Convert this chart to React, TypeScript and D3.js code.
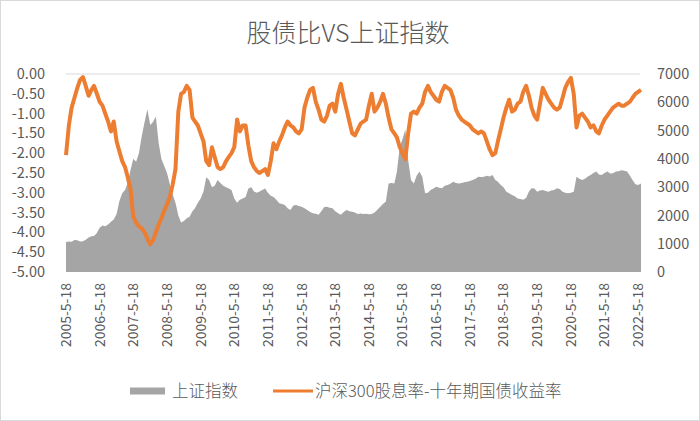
import { useEffect, useRef } from 'react';
import * as d3 from 'd3';

// monthly readings, 2005-05 .. 2022-06
const START_DATE = new Date(2005, 4, 18);

const indexValues = [
  1060, 1080, 1070, 1130, 1120, 1080, 1090, 1140,
  1220, 1260, 1270, 1380, 1560, 1640, 1620, 1680, 1780, 1860, 2050, 2500,
  2780, 2900, 3150, 3600, 4000, 3900, 4200, 4800, 5300, 5750, 5200, 5300,
  5500, 4550, 4000, 3750, 3500, 3100, 2750, 2450, 2000, 1750, 1800, 1900,
  1950, 2150, 2250, 2450, 2600, 2850, 3350, 3250, 3000, 3050, 3250, 3150,
  3050, 3000, 2950, 2900, 2600, 2450, 2550, 2600, 2650, 2950, 3000, 2850,
  2800, 2850, 2900, 2950, 2800, 2700, 2650, 2550, 2430, 2400, 2370, 2250,
  2190, 2350, 2370, 2330, 2310, 2250, 2190, 2120, 2080, 2060, 2020, 2150,
  2300, 2310, 2270, 2250, 2150, 2080, 2020, 2120, 2190, 2150, 2130, 2100,
  2050, 2070, 2050, 2060, 2040, 2050, 2100, 2200, 2310, 2400, 2490, 3130,
  3150, 3130, 3550, 4430, 4700, 5040, 3960, 3250, 3130, 3400, 3550, 3370,
  2780, 2800, 2900, 2950, 3015, 2980, 2960, 3050, 3075, 3120, 3190, 3150,
  3130, 3150, 3170, 3190, 3220, 3250, 3300, 3370, 3360, 3370, 3400, 3380,
  3430, 3250, 3190, 3075, 3000, 2840, 2780, 2720, 2680, 2600, 2580, 2550,
  2620, 2850, 2960, 2950, 2840, 2880, 2900, 2860, 2840, 2880, 2900, 2960,
  2930, 2840, 2800, 2780, 2800, 2840, 3370, 3300, 3250, 3300, 3380, 3430,
  3500, 3550, 3450, 3430, 3500, 3550, 3480, 3490, 3550, 3560, 3600, 3580,
  3550, 3400, 3250, 3100, 3075, 3130,
];

const spreadValues = [
  -2.05, -1.3, -0.85, -0.6, -0.35, -0.15, -0.08, -0.3,
  -0.55, -0.4, -0.3, -0.5, -0.7, -0.8, -1.0, -1.2, -1.45, -1.2, -1.7, -1.95,
  -2.2, -2.35, -2.6, -2.9, -3.6, -3.75, -3.85, -3.9, -4.0, -4.15, -4.3, -4.2,
  -4.0, -3.8, -3.65, -3.45, -3.3, -3.1, -2.8, -2.4, -0.95, -0.5, -0.45, -0.3,
  -0.4, -1.1, -1.2, -1.3, -1.5, -1.7, -2.2, -2.3, -1.85, -2.1, -2.35, -2.4,
  -2.35, -2.2, -2.1, -2.0, -1.85, -1.15, -1.45, -1.3, -1.3, -1.8, -2.2, -2.35,
  -2.45, -2.5, -2.45, -2.4, -2.55, -2.2, -1.75, -1.9, -1.7, -1.55, -1.35, -1.2,
  -1.3, -1.35, -1.45, -1.5, -1.4, -0.85, -0.6, -0.4, -0.35, -0.7, -0.9, -1.15,
  -1.2, -1.05, -0.8, -0.75, -0.95, -0.5, -0.25, -0.6, -0.9, -1.2, -1.5, -1.55,
  -1.4, -1.25, -1.2, -1.15, -0.8, -0.5, -0.95, -0.85, -0.7, -0.5, -0.75, -1.1,
  -1.4, -1.5, -1.6, -1.85, -2.0, -2.15, -1.5, -1.0, -0.95, -1.0, -0.85, -0.75,
  -0.45, -0.3, -0.45, -0.55, -0.65, -0.7, -0.45, -0.3, -0.35, -0.4, -0.6, -0.9,
  -1.05, -1.15, -1.2, -1.25, -1.3, -1.4, -1.45, -1.5, -1.45, -1.5, -1.7, -1.9,
  -2.05, -2.0, -1.7, -1.4, -1.1, -0.85, -0.65, -0.95, -0.9, -0.75, -0.7, -0.45,
  -0.3, -0.55, -0.85, -1.05, -1.15, -0.75, -0.35, -0.5, -0.65, -0.75, -0.85, -0.9,
  -0.85, -0.6, -0.35, -0.2, -0.1, -0.5, -1.35, -1.05, -1.0, -1.1, -1.2, -1.35,
  -1.3, -1.45, -1.5, -1.3, -1.15, -1.05, -0.95, -0.85, -0.8, -0.75, -0.8, -0.8,
  -0.75, -0.7, -0.6, -0.5, -0.45, -0.4,
];

const xTickLabels = [
  '2005-5-18', '2006-5-18', '2007-5-18', '2008-5-18', '2009-5-18', '2010-5-18',
  '2011-5-18', '2012-5-18', '2013-5-18', '2014-5-18', '2015-5-18', '2016-5-18',
  '2017-5-18', '2018-5-18', '2019-5-18', '2020-5-18', '2021-5-18', '2022-5-18',
];
const leftTicks = [0, -0.5, -1, -1.5, -2, -2.5, -3, -3.5, -4, -4.5, -5];
const rightTicks = [0, 1000, 2000, 3000, 4000, 5000, 6000, 7000];

const TITLE = '股债比VS上证指数';
const INDEX_NAME = '上证指数';
const SPREAD_NAME = '沪深300股息率-十年期国债收益率';

const GRAY = '#A5A5A5';
const ORANGE = '#ED7D31';
const TEXT = '#595959';
const FONT = '"Noto Sans CJK SC", "Noto Sans", sans-serif';

export default function App() {
  const svgRef = useRef<SVGSVGElement>(null);

  useEffect(() => {
    if (!svgRef.current) return;
    const width = 700;
    const height = 421;
    const svg = d3.select(svgRef.current);
    svg.selectAll('*').remove();

    const plot = { left: 66, right: 641, top: 74, bottom: 272 };

    const dates = indexValues.map((_, i) => d3.timeMonth.offset(START_DATE, i));
    const parseTick = d3.timeParse('%Y-%m-%d');

    const x = d3
      .scaleTime()
      .domain([START_DATE, dates[dates.length - 1]])
      .range([plot.left, plot.right]);
    const yLeft = d3.scaleLinear().domain([-5, 0]).range([plot.bottom, plot.top]);
    const yRight = d3.scaleLinear().domain([0, 7000]).range([plot.bottom, plot.top]);

    svg.attr('width', width).attr('height', height).style('font-family', FONT);

    // Background and border
    svg
      .append('rect')
      .attr('x', 0.5)
      .attr('y', 0.5)
      .attr('width', width - 1)
      .attr('height', height - 1)
      .attr('fill', '#fff')
      .attr('stroke', '#D9D9D9');

    // Title
    svg
      .append('text')
      .attr('x', 348)
      .attr('y', 42)
      .attr('text-anchor', 'middle')
      .attr('fill', TEXT)
      .style('font-size', '25px')
      .style('font-weight', 300)
      .text(TITLE);

    // Index area (right axis)
    const area = d3
      .area<number>()
      .x((_, i) => x(dates[i]))
      .y0(yRight(0))
      .y1((d) => yRight(d));
    svg.append('path').datum(indexValues).attr('d', area).attr('fill', GRAY);

    // Category axis line at 0 of the left axis
    svg
      .append('line')
      .attr('x1', plot.left)
      .attr('x2', plot.right - 1)
      .attr('y1', yLeft(0))
      .attr('y2', yLeft(0))
      .attr('stroke', '#D9D9D9')
      .attr('stroke-width', 1.2);

    // Spread line (left axis)
    const line = d3
      .line<number>()
      .x((_, i) => x(dates[i]))
      .y((d) => yLeft(d));
    svg
      .append('path')
      .datum(spreadValues)
      .attr('d', line)
      .attr('fill', 'none')
      .attr('stroke', ORANGE)
      .attr('stroke-width', 4)
      .attr('stroke-linejoin', 'round');

    // Left axis labels
    svg
      .append('g')
      .selectAll('text')
      .data(leftTicks)
      .enter()
      .append('text')
      .attr('x', 45)
      .attr('y', (d) => yLeft(d))
      .attr('dy', '0.35em')
      .attr('text-anchor', 'end')
      .attr('fill', TEXT)
      .style('font-size', '14.5px')
      .text((d) => d.toFixed(2));

    // Right axis labels
    svg
      .append('g')
      .selectAll('text')
      .data(rightTicks)
      .enter()
      .append('text')
      .attr('x', 657)
      .attr('y', (d) => yRight(d))
      .attr('dy', '0.35em')
      .attr('text-anchor', 'start')
      .attr('fill', TEXT)
      .style('font-size', '14.5px')
      .text((d) => String(d));

    // X axis labels, rotated
    svg
      .append('g')
      .selectAll('text')
      .data(xTickLabels)
      .enter()
      .append('text')
      .attr('transform', (d) => {
        const px = x(parseTick(d) as Date);
        return `translate(${px},283) rotate(-90)`;
      })
      .attr('dy', '0.35em')
      .attr('text-anchor', 'end')
      .attr('fill', TEXT)
      .style('font-size', '14px')
      .text((d) => d);

    // Legend
    const legend = svg.append('g').attr('transform', 'translate(0,391)');
    legend
      .append('rect')
      .attr('x', 130)
      .attr('y', -3.5)
      .attr('width', 35)
      .attr('height', 7)
      .attr('fill', GRAY);
    legend
      .append('text')
      .attr('x', 172)
      .attr('dy', '0.35em')
      .attr('fill', TEXT)
      .style('font-size', '16.5px')
      .style('font-weight', 300)
      .text(INDEX_NAME);
    legend
      .append('line')
      .attr('x1', 273)
      .attr('x2', 313)
      .attr('y1', 0)
      .attr('y2', 0)
      .attr('stroke', ORANGE)
      .attr('stroke-width', 3);
    legend
      .append('text')
      .attr('x', 315)
      .attr('dy', '0.35em')
      .attr('fill', TEXT)
      .style('font-size', '16.5px')
      .style('font-weight', 300)
      .text(SPREAD_NAME);
  }, []);

  return <svg ref={svgRef} style={{ position: 'absolute', left: 0, top: 0 }} />;
}
